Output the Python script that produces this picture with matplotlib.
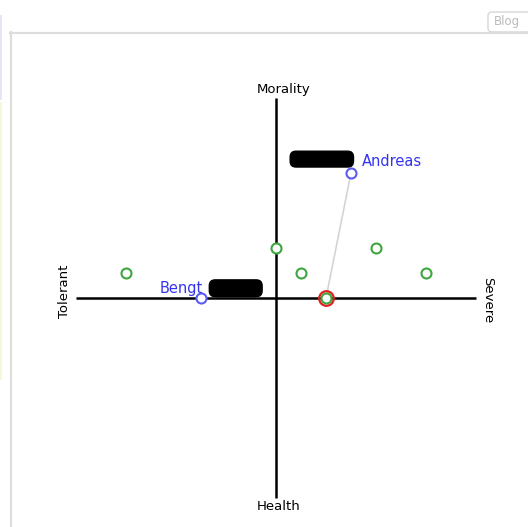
import matplotlib
matplotlib.use("Agg")
import matplotlib.pyplot as plt
from matplotlib.patches import Rectangle, FancyBboxPatch
from matplotlib.lines import Line2D

# ---- data ----
axis_top = "Morality"
axis_bottom = "Health"
axis_left = "Tolerant"
axis_right = "Severe"
axis_extent = 8

other_x = [0, -6, 1, 4, 6, 2]
other_y = [2, 1, 1, 2, 1, 0]

people = ["Andreas", "Bengt"]
people_x = [3, -3]
people_y = [5, 0]

highlight_x = [2]
highlight_y = [0]

link_from = 0  # Andreas linked to highlighted point

W, H = 528, 527
fig = plt.figure(figsize=(W / 100, H / 100), dpi=100)
fig.patch.set_facecolor("white")

def fx(px): return px / W
def fy(py): return 1 - py / H

fig.add_artist(Line2D([fx(10.5), fx(10.5)], [fy(32), fy(527)], color="#dddddd", lw=1.6))
fig.add_artist(Line2D([fx(10), fx(528)], [fy(32.5), fy(32.5)], color="#dddddd", lw=1.6))
fig.add_artist(FancyBboxPatch((fx(488), fy(32)), fx(60), fy(12) - fy(32),
                              boxstyle="round,pad=0,rounding_size=0.008",
                              transform=fig.transFigure, facecolor="white",
                              edgecolor="#dddddd", lw=1.2))
fig.text(fx(494), fy(22), "Blog", color="#bbbbbb", fontsize=8.5, va="center", ha="left")
fig.add_artist(Rectangle((0, fy(100)), fx(1.5), fy(15) - fy(100), transform=fig.transFigure,
                         facecolor="#e6e6f8", edgecolor="none"))
fig.add_artist(Rectangle((0, fy(380)), fx(1.5), fy(102) - fy(380), transform=fig.transFigure,
                         facecolor="#f6f8d8", edgecolor="none"))

ppu = 25.0
cx, cy = 276, 298
ax = fig.add_axes([0, 0, 1, 1])
ax.set_xlim(-cx / ppu, (W - cx) / ppu)
ax.set_ylim(-(H - cy) / ppu, cy / ppu)
ax.axis("off")

ax.plot([-axis_extent, axis_extent], [0, 0], color="black", lw=1.8, solid_capstyle="butt", zorder=1)
ax.plot([0, 0], [-axis_extent, axis_extent], color="black", lw=1.8, solid_capstyle="butt", zorder=1)

fs = 9.5
ax.text(0.32, axis_extent + 0.36, axis_top, ha="center", va="center", fontsize=fs)
ax.text(0.1, -axis_extent - 0.32, axis_bottom, ha="center", va="center", fontsize=fs)
ax.text(-axis_extent - 0.44, 0.28, axis_left, ha="center", va="center", rotation=90, fontsize=fs)
ax.text(axis_extent + 0.48, -0.08, axis_right, ha="center", va="center", rotation=270, fontsize=fs)

ax.plot([people_x[link_from], highlight_x[0]], [people_y[link_from], highlight_y[0]],
        color="#d4d4d4", lw=1.2, zorder=2)

ax.plot(highlight_x, highlight_y, "o", ms=10.5, mfc="none", mec="#e02020", mew=1.6, zorder=3)
ax.plot(other_x, other_y, "o", ms=7.2, mfc="white", mec="#3fa63f", mew=1.5, zorder=4)
ax.plot(people_x, people_y, "o", ms=7.2, mfc="white", mec="#5b5bf5", mew=1.5, zorder=5)

blue = "#3434f0"
nfs = 10.5
ax.annotate(people[0], (people_x[0], people_y[0]), xytext=(8, 8), textcoords="offset points",
            color=blue, fontsize=nfs, ha="left", va="center", zorder=6)
ax.annotate("xxxxxxxxxx", (people_x[0], people_y[0]), xytext=(-21, 10), textcoords="offset points",
            color="black", fontsize=7, ha="center", va="center", zorder=6,
            bbox=dict(boxstyle="round,pad=0.3,rounding_size=0.6", fc="black", ec="black"))
ax.annotate(people[1], (people_x[1], people_y[1]), xytext=(1.5, 6.5), textcoords="offset points",
            color=blue, fontsize=nfs, ha="right", va="center", zorder=6)
ax.annotate("xxxxxxxx", (people_x[1], people_y[1]), xytext=(25, 7), textcoords="offset points",
            color="black", fontsize=7, ha="center", va="center", zorder=6,
            bbox=dict(boxstyle="round,pad=0.35,rounding_size=0.6", fc="black", ec="black"))

fig.savefig("out.png", dpi=100)
